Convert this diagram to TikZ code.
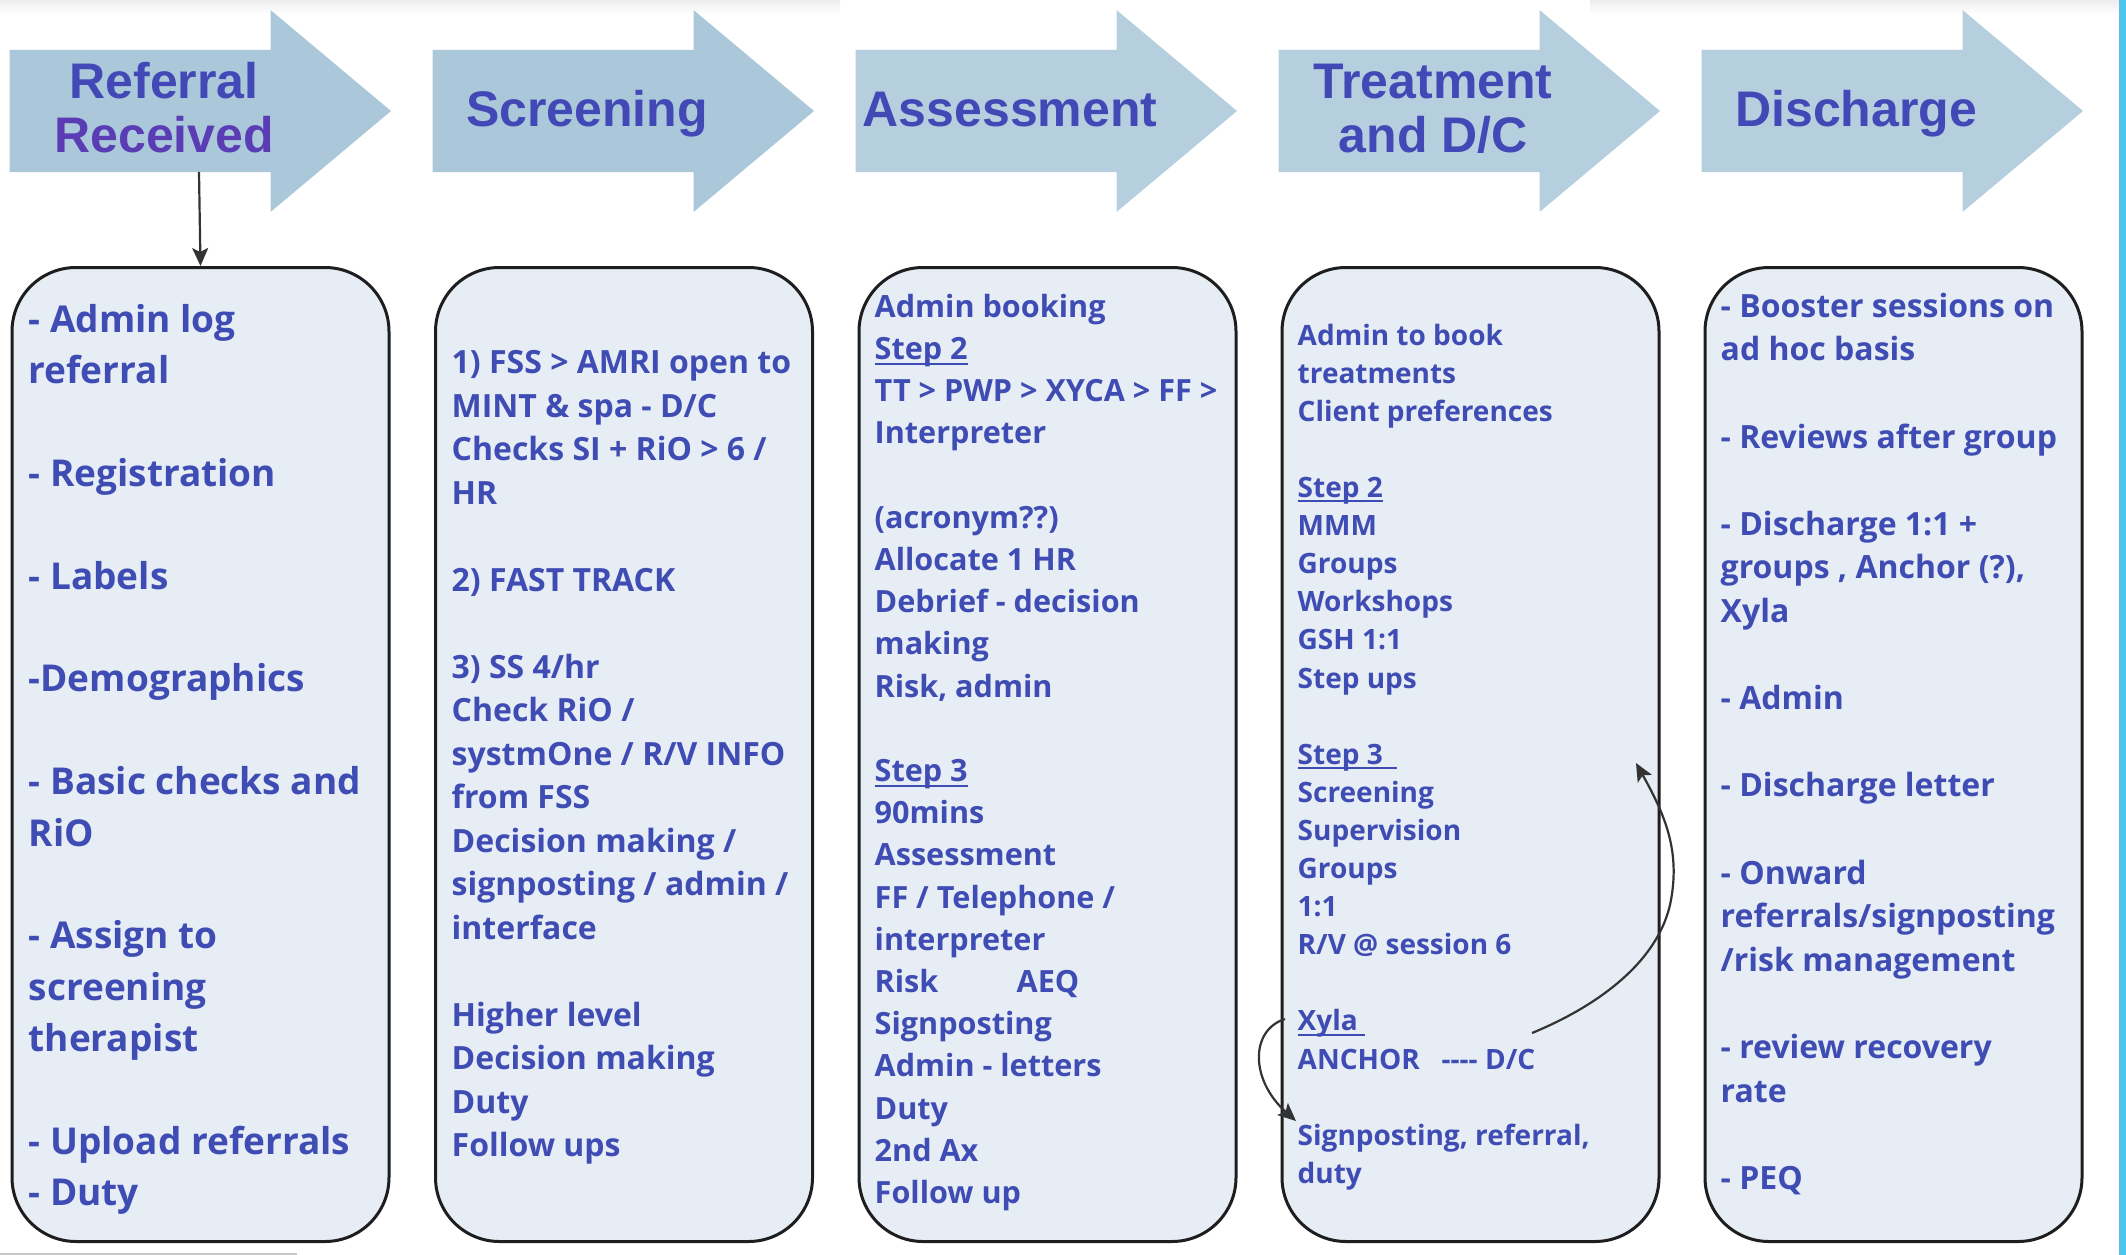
\documentclass[tikz,border=0pt]{standalone}
\usepackage{fontspec}
\setmainfont{Open Sans}
\newfontfamily\headfont{Liberation Sans}
\usetikzlibrary{arrows.meta}

\definecolor{ink}{HTML}{3F4CB4}
\definecolor{headink}{HTML}{4248B5}
\definecolor{headviolet}{HTML}{5A3DB5}
\definecolor{stageA}{HTML}{AAC8DA}
\definecolor{stageB}{HTML}{B6CFDF}
\definecolor{panelfill}{HTML}{E6EDF4}
\definecolor{paneledge}{HTML}{1E1E1E}
\definecolor{linkgray}{HTML}{333333}
\definecolor{strip}{HTML}{4EC4EA}

% underlined heading inside a panel: the rule sits just under the baseline
\newcommand{\uword}[1]{\setbox0\hbox{#1}\rlap{\rule[-0.17em]{\wd0}{0.07em}}\box0}
% one stage arrow: #1 = left edge of the body, #2 = fill colour
\newcommand{\stagearrow}[2]{%
  \fill[#2] (#1,50) -- (#1+261,50) -- (#1+261,10) -- (#1+381.5,111)
    -- (#1+261,212) -- (#1+261,172) -- (#1,172) -- cycle;}

\tikzset{
  headline/.style={font={\headfont\fontsize{50}{54}\selectfont\bfseries},
    text=headink, inner sep=0pt, anchor=base},
  panel/.style={draw=paneledge, line width=3pt, fill=panelfill,
    rounded corners=64pt, minimum width=377pt, minimum height=974pt,
    inner sep=0pt, anchor=north west},
  notes/.style={text=ink, align=left, inner sep=0pt, anchor=north west},
  link/.style={draw=linkgray, line width=2.2pt,
    -{Stealth[length=18pt,width=16pt,inset=4pt]}},
}

\begin{document}
\begin{tikzpicture}[x=1pt,y=-1pt]
\useasboundingbox (0,0) rectangle (2126,1255);
\fill[white] (0,0) rectangle (2126,1255);

% soft shadow along the top edge and the thin rule at the bottom left
\fill[top color=black!7, bottom color=white] (0,0) rectangle (840,14);
\fill[top color=black!7, bottom color=white] (1590,0) rectangle (2119,14);
\fill[black!22] (0,1252.5) rectangle (297,1255);
% coloured strip on the right edge
\fill[strip] (2119,0) rectangle (2126,1255);

% stage arrows
\stagearrow{9.5}{stageA}
\stagearrow{432.5}{stageA}
\stagearrow{855.5}{stageB}
\stagearrow{1278.5}{stageB}
\stagearrow{1701.5}{stageB}

\node[headline] (h1a) at (164.1,98) {Referral};
\node[headline, text=headviolet] (h1b) at (164.1,152) {Received};
\node[headline] (h2) at (587.1,126) {Screening};
\node[headline] (h3) at (1010.1,126) {Assessment};
\node[headline] (h4a) at (1433.1,98) {Treatment};
\node[headline] (h4b) at (1433.1,152) {and D/C};
\node[headline] (h5) at (1856.1,126) {Discharge};

% panels
\node[panel] (box1) at (10.5,266) {};
\node[panel] (box2) at (434,266) {};
\node[panel] (box3) at (857.5,266) {};
\node[panel] (box4) at (1280.5,266) {};
\node[panel] (box5) at (1703.5,266) {};

% panel texts
\node[notes, font={\fontsize{37}{51.4}\selectfont\bfseries}] (n1) at (28.5,296) {%
\strut- Admin log\\referral\\ \\- Registration\\ \\- Labels\\ \\-Demographics\\ \\%
- Basic checks and\\RiO\\ \\- Assign to\\screening\\therapist\\ \\%
- Upload referrals\\- Duty};

\node[notes, font={\fontsize{32}{43.5}\selectfont\bfseries}] (n2) at (451.5,343.3) {%
\strut1) FSS > AMRI open to\\MINT \& spa - D/C\\Checks SI + RiO > 6 /\\HR\\ \\%
2) FAST TRACK\\ \\3) SS 4/hr\\Check RiO /\\systmOne / R/V INFO\\from FSS\\%
Decision making /\\signposting / admin /\\interface\\ \\Higher level\\%
Decision making\\Duty\\Follow ups};

\node[notes, font={\fontsize{30.6}{42.2}\selectfont\bfseries}] (n3) at (874.5,287.5) {%
\strut Admin booking\\\uword{Step 2}\\TT > PWP > XYCA > FF >\\Interpreter\\ \\%
(acronym??)\\Allocate 1 HR\\Debrief - decision\\making\\Risk, admin\\ \\%
\uword{Step 3}\\90mins\\Assessment\\FF / Telephone /\\interpreter\\%
\makebox[142pt][l]{Risk}AEQ\\Signposting\\Admin - letters\\Duty\\2nd Ax\\Follow up};

\node[notes, font={\fontsize{28}{38.1}\selectfont\bfseries}] (n4) at (1297.5,318.3) {%
\strut Admin to book\\treatments\\Client preferences\\ \\\uword{Step 2}\\MMM\\%
Groups\\Workshops\\GSH 1:1\\Step ups\\ \\\uword{Step 3\ \ }\\Screening\\%
Supervision\\Groups\\1:1\\R/V @ session 6\\ \\\uword{Xyla\ }\\%
\makebox[144pt][l]{ANCHOR}{-}{-}{-}{-} D/C\\ \\Signposting, referral,\\duty};

\node[notes, font={\fontsize{32}{43.6}\selectfont\bfseries}] (n5) at (1720.5,286.5) {%
\strut- Booster sessions on\\ad hoc basis\\ \\- Reviews after group\\ \\%
- Discharge 1:1 +\\groups , Anchor (?),\\Xyla\\ \\- Admin\\ \\%
- Discharge letter\\ \\- Onward\\referrals/signposting\\/risk management\\ \\%
- review recovery\\rate\\ \\- PEQ};

% connectors
\coordinate (h1foot) at (199,172);
\draw[link] (h1foot) -- (box1.north);

\coordinate (dcEnd) at (1532,1033);
\coordinate (stepTip) at (1636,763);
\draw[link] (dcEnd) .. controls (1600,1005) and (1660,960) .. (1671,900)
  .. controls (1680,850) and (1665,815) .. (stepTip);

\coordinate (xylaStart) at (1285,1019);
\coordinate (signTip) at (1296,1121);
\draw[link] (xylaStart) .. controls (1250,1030) and (1250,1080) .. (signTip);
\end{tikzpicture}
\end{document}
